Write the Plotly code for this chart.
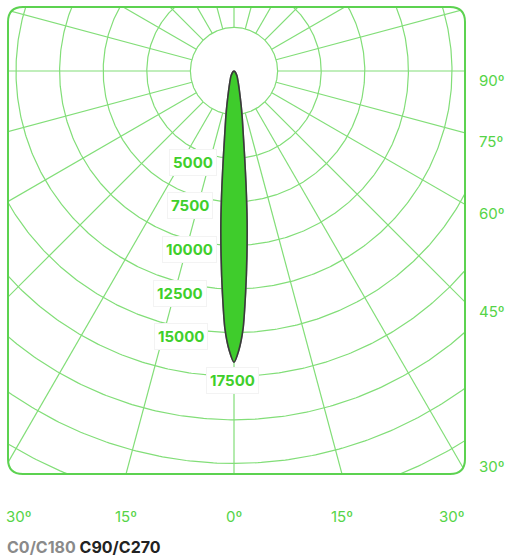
import numpy as np
import plotly.graph_objects as go

# ---------------- data ----------------
ANGLES = [0, 1, 2, 3, 4, 5, 6, 7, 8, 10, 12, 15, 20, 30, 45, 60, 90]          # degrees from nadir
C0_C180 = [16700, 16000, 14800, 12700, 10600, 8600, 6600, 5000, 3900, 2700, 1900, 1200, 700, 350, 120, 40, 0]
C90_C270 = [16700, 16000, 14800, 12700, 10600, 8600, 6600, 5000, 3900, 2700, 1900, 1200, 700, 350, 120, 40, 0]
RINGS = [2500, 5000, 7500, 10000, 12500, 15000, 17500, 20000, 22500, 25000]
RING_LABELS = [5000, 7500, 10000, 12500, 15000, 17500]
SPOKE_ANGLES = list(range(0, 360, 15))
RIGHT_TICKS = [90, 75, 60, 45, 30]
BOTTOM_TICKS = [-30, -15, 0, 15, 30]

# ---------------- geometry / style ----------------
W, H = 506, 558
ML, MR, MT, MB = 8, 41, 7, 84
CX, CY = 234, 71                 # pole position in pixels
S = 43.6 / 2500                  # pixels per cd
XMIN = (ML - CX) / S
XMAX = (W - MR - CX) / S
YMAX = (CY - MT) / S
YMIN = -(H - MB - CY) / S
PW, PH = W - ML - MR, H - MT - MB

GRID = "#82de78"
BORDER = "#5cd250"
FILL = "#3fcc2c"
TXT_BOLD = "#3fcf2c"
TXT_ANG = "#55d447"
FONT = "Inter"


def polar_xy(r, deg):
    t = np.radians(deg)
    return r * np.sin(t), -r * np.cos(t)


fig = go.Figure()

# rings
rx, ry = [], []
phi = np.linspace(0, 360, 721)
for r in RINGS:
    x, y = polar_xy(r, phi)
    rx += list(x) + [None]
    ry += list(y) + [None]
fig.add_trace(go.Scatter(x=rx, y=ry, mode="lines", line=dict(color=GRID, width=1.2), hoverinfo="skip"))

# spokes
sx, sy = [], []
for a in SPOKE_ANGLES:
    x0, y0 = polar_xy(RINGS[0], a)
    x1, y1 = polar_xy(40000, a)
    sx += [x0, x1, None]
    sy += [y0, y1, None]
fig.add_trace(go.Scatter(x=sx, y=sy, mode="lines", line=dict(color=GRID, width=1.2), hoverinfo="skip"))


def curve(vals):
    th = [-a for a in ANGLES[::-1]] + ANGLES[1:]
    iv = vals[::-1] + vals[1:]
    x, y = polar_xy(np.array(iv, float), np.array(th, float))
    return x, y


for name, vals, col in [("C0/C180", C0_C180, "#8a8a8a"), ("C90/C270", C90_C270, "#3a3a3a")]:
    x, y = curve(vals)
    fig.add_trace(go.Scatter(x=x, y=y, mode="lines", fill="toself", fillcolor=FILL,
                             line=dict(color=col, width=1.6, shape="spline", smoothing=0.6),
                             name=name, hoverinfo="skip"))

annotations = []
# intensity labels
LABEL_DX = [-17, -21, -17, -27, -26, 0]
for v, dx in zip(RING_LABELS, LABEL_DX):
    last = v == RING_LABELS[-1]
    annotations.append(dict(
        x=0, y=-v, xref="x", yref="y", text=f"<b>{v}</b>", showarrow=False,
        xanchor="center" if last else "right", xshift=dx - 2 if last else dx,
        yshift=-4, yanchor="middle",
        font=dict(family=FONT, size=15, color=TXT_BOLD),
        bgcolor="white", bordercolor="#f3f3f3", borderwidth=1, borderpad=3))

# right angle labels
for a in RIGHT_TICKS:
    yv = 0 if a == 90 else -XMAX / np.tan(np.radians(a))
    yv = max(yv, YMIN + 17 / S)
    annotations.append(dict(x=XMAX, y=yv, xref="x", yref="y", text=f"{a}º", showarrow=False,
                            xanchor="left", xshift=12, yshift=-9, yanchor="middle",
                            font=dict(family=FONT, size=15, color=TXT_ANG)))

# bottom angle labels
for a in BOTTOM_TICKS:
    xv = -YMIN * np.tan(np.radians(a))
    xv = min(max(xv, XMIN + 10 / S), XMAX - 14 / S)
    annotations.append(dict(x=xv, y=YMIN, xref="x", yref="y", text=f"{abs(a)}º", showarrow=False,
                            xanchor="center", yshift=-42, yanchor="middle",
                            font=dict(family=FONT, size=15, color=TXT_ANG)))

# legend-like text
annotations.append(dict(x=(5 - ML) / PW, y=(H - MB - 547) / PH, xref="paper", yref="paper", showarrow=False,
                        xanchor="left", yanchor="middle",
                        text="<b><span style='color:#8a8a8a'>C0/C180</span> <span style='color:#222222'>C90/C270</span></b>",
                        font=dict(family=FONT, size=16)))

# rounded border + corner masks (paper coords)
qx, qy = 15 / PW, 15 / PH
shapes = []
for cx0, cy0, sxn, syn in [(0, 0, 1, 1), (1, 0, -1, 1), (1, 1, -1, -1), (0, 1, 1, -1)]:
    p = (f"M {cx0},{cy0} L {cx0 + sxn*qx},{cy0} Q {cx0},{cy0} {cx0},{cy0 + syn*qy} Z")
    shapes.append(dict(type="path", xref="paper", yref="paper", path=p,
                       fillcolor="white", line=dict(width=0), layer="above"))
border = (f"M {qx},0 L {1-qx},0 Q 1,0 1,{qy} L 1,{1-qy} Q 1,1 {1-qx},1 "
          f"L {qx},1 Q 0,1 0,{1-qy} L 0,{qy} Q 0,0 {qx},0 Z")
shapes.append(dict(type="path", xref="paper", yref="paper", path=border,
                   line=dict(color=BORDER, width=2), layer="above"))

fig.update_layout(
    width=W, height=H, margin=dict(l=ML, r=MR, t=MT, b=MB),
    paper_bgcolor="white", plot_bgcolor="white", showlegend=False,
    xaxis=dict(range=[XMIN, XMAX], visible=False),
    yaxis=dict(range=[YMIN, YMAX], visible=False),
    annotations=annotations, shapes=shapes, hovermode=False,
)

fig.write_html("out.html", config={"displayModeBar": False},
               post_script="document.body.style.margin='0px';")
